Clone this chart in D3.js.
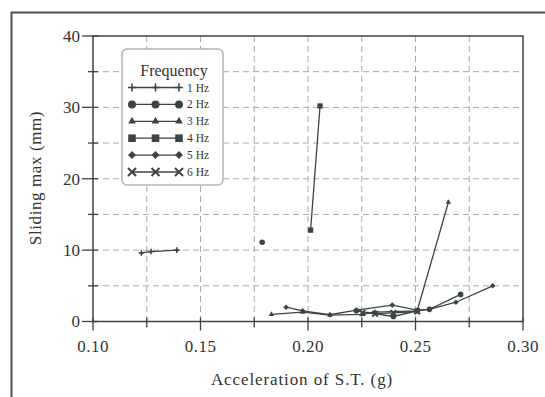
<!DOCTYPE html>
<html>
<head>
  <meta charset="utf-8" />
  <script src="https://d3js.org/d3.v7.min.js"></script>
  <style>
    body {
      margin: 0;
      background: #fff;
      font-family: "Liberation Serif", "Times New Roman", serif;
    }
    .grid line {
      stroke: #a8a8a8;
      stroke-width: 1px;
      stroke-dasharray: 6,4;
    }
    .series {
      fill: none;
      stroke: #3c4444;
      stroke-width: 1.3px;
    }
  </style>
</head>
<body>
  <script>
    // values
    var freqLabels = ["1 Hz", "2 Hz", "3 Hz", "4 Hz", "5 Hz", "6 Hz"];
    var hz1 = [[0.1225, 9.6], [0.127, 9.8], [0.139, 10.0]];
    var hz2 = [[0.1787, 11.1], null, [0.2225, 1.5], [0.2397, 0.7], [0.2508, 1.5], [0.2565, 1.7], [0.271, 3.8]];
    var hz3 = [[0.183, 1.0], [0.1975, 1.3], [0.2102, 0.9], [0.2253, 1.0], [0.2312, 1.3], [0.2508, 1.5], [0.2653, 16.7]];
    var hz4 = [[0.2012, 12.8], [0.2056, 30.2]];
    var hz5 = [[0.1898, 2.0], [0.1975, 1.5], [0.2102, 0.95], [0.2225, 1.6], [0.2392, 2.3], [0.2508, 1.6], [0.2565, 1.7], [0.2688, 2.7], [0.2859, 5.0]];
    var hz6 = [[0.2253, 1.2], [0.2312, 1.1], [0.2397, 1.2], [0.2508, 1.4]];
    var xTicks = [0.10, 0.15, 0.20, 0.25, 0.30];
    var yTicks = [0, 10, 20, 30, 40];

    var series = [hz1, hz2, hz3, hz4, hz5, hz6];
    var markers = ["plus", "circle", "triangle", "square", "diamond", "times"];
    var ink = "#3c4444";

    var W = 545, H = 397;
    var margin = { top: 36, right: 22, bottom: 75.5, left: 93 };
    var width = W - margin.left - margin.right;
    var height = H - margin.top - margin.bottom;

    var x = d3.scaleLinear().domain([0.10, 0.30]).range([0, width]);
    var y = d3.scaleLinear().domain([0, 40]).range([height, 0]);

    var svg = d3.select("body")
      .append("svg")
      .attr("width", W)
      .attr("height", H);

    // outer frame of the scanned page
    svg.append("path")
      .attr("d", "M11.5 397V12.5H545")
      .attr("fill", "none")
      .attr("stroke", "#4a4f4f")
      .attr("stroke-width", 2);

    var g = svg.append("g")
      .attr("transform", `translate(${margin.left} ${margin.top})`);

    // dashed grid every 0.025 and every 5 mm
    var grid = g.append("g").attr("class", "grid");
    grid.selectAll(".gx")
      .data(d3.range(1, 8).map(function(i) { return 0.10 + i * 0.025; }))
      .enter().append("line")
      .attr("x1", function(d) { return x(d); })
      .attr("x2", function(d) { return x(d); })
      .attr("y1", 0)
      .attr("y2", height);
    grid.selectAll(".gy")
      .data(d3.range(1, 8).map(function(i) { return i * 5; }))
      .enter().append("line")
      .attr("y1", function(d) { return y(d); })
      .attr("y2", function(d) { return y(d); })
      .attr("x1", 0)
      .attr("x2", width);

    // frame of the plot area
    g.append("rect")
      .attr("width", width)
      .attr("height", height)
      .attr("fill", "none")
      .attr("stroke", ink)
      .attr("stroke-width", 1.5);

    // ticks
    var minorX = d3.range(0, 9).map(function(i) { return 0.10 + i * 0.025; });
    g.selectAll(".tx")
      .data(minorX)
      .enter().append("line")
      .attr("x1", function(d) { return x(d); })
      .attr("x2", function(d) { return x(d); })
      .attr("y1", height - 4)
      .attr("y2", function(d, i) { return height + (i % 2 ? 6 : 9); })
      .attr("stroke", ink)
      .attr("stroke-width", 1.3);
    var minorY = d3.range(0, 9).map(function(i) { return i * 5; });
    g.selectAll(".ty")
      .data(minorY)
      .enter().append("line")
      .attr("y1", function(d) { return y(d); })
      .attr("y2", function(d) { return y(d); })
      .attr("x1", function(d, i) { return i % 2 ? -5 : -11; })
      .attr("x2", 5)
      .attr("stroke", ink)
      .attr("stroke-width", 1.3);

    g.selectAll(".lx")
      .data(xTicks)
      .enter().append("text")
      .attr("x", function(d) { return x(d); })
      .attr("y", height + 30)
      .attr("text-anchor", "middle")
      .attr("fill", "#333")
      .style("font-size", "17px")
      .style("letter-spacing", "0.5px")
      .text(function(d) { return d3.format(".2f")(d); });

    g.selectAll(".ly")
      .data(yTicks)
      .enter().append("text")
      .attr("x", -13)
      .attr("y", function(d) { return y(d); })
      .attr("dy", "0.35em")
      .attr("text-anchor", "end")
      .attr("fill", "#333")
      .style("font-size", "17px")
      .text(function(d) { return d; });

    svg.append("text")
      .attr("x", margin.left + x(0.20) - 6)
      .attr("y", 385)
      .attr("text-anchor", "middle")
      .attr("fill", "#333")
      .style("font-size", "17px")
      .style("letter-spacing", "0.9px")
      .text("Acceleration of S.T. (g)");

    svg.append("text")
      .attr("transform", "translate(41 178) rotate(-90)")
      .attr("text-anchor", "middle")
      .attr("fill", "#333")
      .style("font-size", "17px")
      .style("letter-spacing", "0.6px")
      .text("Sliding max (mm)");

    function marker(sel, type, s) {
      if (type == "plus") {
        sel.append("path")
          .attr("d", `M${-s} 0H${s}M0 ${-s}V${s}`)
          .attr("stroke", ink).attr("stroke-width", 1.6).attr("fill", "none");
      } else if (type == "times") {
        sel.append("path")
          .attr("d", `M${-s} ${-s}L${s} ${s}M${-s} ${s}L${s} ${-s}`)
          .attr("stroke", ink).attr("stroke-width", 2).attr("fill", "none");
      } else if (type == "diamond") {
        sel.append("path")
          .attr("d", `M0 ${-s}L${s} 0L0 ${s}L${-s} 0Z`)
          .attr("fill", ink);
      } else {
        var sym = { circle: d3.symbolCircle, triangle: d3.symbolTriangle,
          square: d3.symbolSquare }[type];
        var area = { circle: Math.PI * s * s, triangle: 1.6 * s * s,
          square: 3.6 * s * s }[type];
        sel.append("path")
          .attr("d", d3.symbol(sym, area)())
          .attr("fill", ink);
      }
    }

    var line = d3.line()
      .defined(function(d) { return d != null; })
      .x(function(d) { return x(d[0]); })
      .y(function(d) { return y(d[1]); });

    var plot = g.append("g");
    series.forEach(function(data, k) {
      plot.append("path")
        .attr("class", "series")
        .attr("d", line(data));
      plot.selectAll(null)
        .data(data.filter(function(d) { return d != null; }))
        .enter().append("g")
        .attr("transform", function(d) { return `translate(${x(d[0])} ${y(d[1])})`; })
        .each(function() { marker(d3.select(this), markers[k], 2.8); });
    });

    // legend
    var leg = svg.append("g").attr("transform", "translate(122 49)");
    leg.append("rect")
      .attr("width", 101)
      .attr("height", 136)
      .attr("rx", 5)
      .attr("fill", "#fff")
      .attr("stroke", "#b4b4b4")
      .attr("stroke-width", 1.5);
    leg.append("text")
      .attr("x", 52)
      .attr("y", 27)
      .attr("text-anchor", "middle")
      .attr("fill", "#333")
      .style("font-size", "16px")
      .text("Frequency");
    var rows = leg.selectAll(".row")
      .data(freqLabels)
      .enter().append("g")
      .attr("transform", function(d, i) { return `translate(0 ${38.5 + i * 16.9})`; });
    rows.append("line")
      .attr("x1", 10).attr("x2", 57)
      .attr("stroke", ink).attr("stroke-width", 1.3);
    rows.each(function(d, i) {
      var row = d3.select(this);
      [10, 33.5, 57].forEach(function(px) {
        marker(row.append("g").attr("transform", `translate(${px} 0)`), markers[i], 4);
      });
    });
    rows.append("text")
      .attr("x", 65)
      .attr("dy", "0.35em")
      .attr("fill", "#333")
      .style("font-size", "11.5px")
      .text(function(d) { return d; });
  </script>
</body>
</html>
